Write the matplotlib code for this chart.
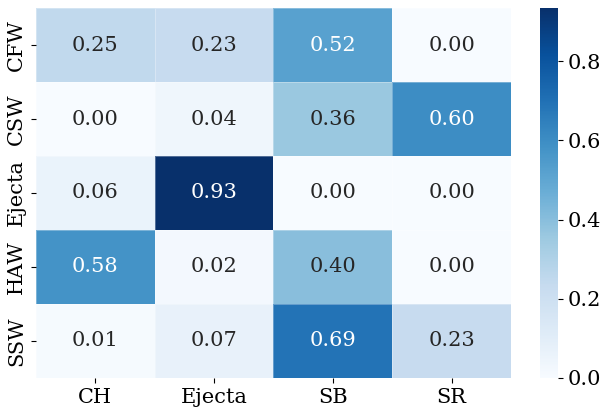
import matplotlib
matplotlib.use("Agg")
import matplotlib.pyplot as plt
import numpy as np
import seaborn as sns

row_labels = ["CFW", "CSW", "Ejecta", "HAW", "SSW"]
col_labels = ["CH", "Ejecta", "SB", "SR"]

cfw = [0.25, 0.23, 0.52, 0.00]
csw = [0.00, 0.04, 0.36, 0.60]
ejecta = [0.06, 0.934, 0.00, 0.00]
haw = [0.58, 0.02, 0.40, 0.00]
ssw = [0.01, 0.07, 0.69, 0.23]

matrix = np.array([cfw, csw, ejecta, haw, ssw])

plt.rcParams['font.family'] = ['DejaVu Serif']
plt.rcParams['font.size'] = 15

fig = plt.figure(figsize=(6.02, 4.07), dpi=100)
ax = fig.add_axes([0.0598, 0.0713, 0.789, 0.909])
cax = fig.add_axes([0.897, 0.0713, 0.030, 0.909])

# faint seams between cells, like the original
sns.heatmap(matrix, ax=ax, cbar_ax=cax, cmap="Blues", annot=True, fmt=".2f",
            linewidths=0.5, linecolor=(1, 1, 1, 0.3),
            xticklabels=col_labels, yticklabels=row_labels,
            annot_kws={"size": 15})
ax.tick_params(axis='both', labelsize=15)
ax.set_yticklabels(row_labels, rotation=90, va='center')
cax.tick_params(labelsize=15)
cax.yaxis.set_ticks([0.0, 0.2, 0.4, 0.6, 0.8])

fig.savefig("out.png", dpi=100)
